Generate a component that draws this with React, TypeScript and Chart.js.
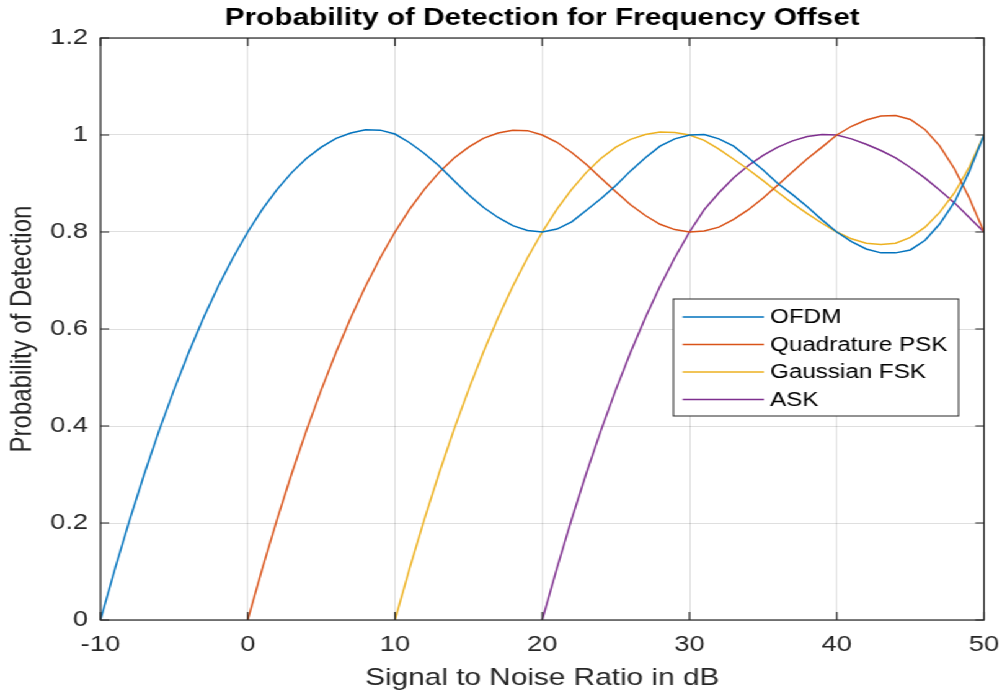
import React, { useEffect, useRef } from 'react';
import { Chart, registerables } from 'chart.js';

Chart.register(...registerables);

// ---------- data ----------
const TITLE = 'Probability of Detection for Frequency Offset';
const X_TITLE = 'Signal to Noise Ratio in dB';
const Y_TITLE = 'Probability of Detection';

const SNR_DB = [
  -10, -9, -8, -7, -6, -5, -4, -3, -2, -1,
  0, 1, 2, 3, 4, 5, 6, 7, 8, 9,
  10, 11, 12, 13, 14, 15, 16, 17, 18, 19,
  20, 21, 22, 23, 24, 25, 26, 27, 28, 29,
  30, 31, 32, 33, 34, 35, 36, 37, 38, 39,
  40, 41, 42, 43, 44, 45, 46, 47, 48, 49, 50,
];

const X_TICKS = [-10, 0, 10, 20, 30, 40, 50];
const X_TICK_LABELS = ['-10', '0', '10', '20', '30', '40', '50'];
const Y_TICKS = [0, 0.2, 0.4, 0.6, 0.8, 1, 1.2];
const Y_TICK_LABELS = ['0', '0.2', '0.4', '0.6', '0.8', '1', '1.2'];

const SERIES_NAMES = ['OFDM', 'Quadrature PSK', 'Gaussian FSK', 'ASK'];
const SERIES_COLORS = ['#0072BD', '#D95319', '#EDB120', '#7E2F8E'];

const OFDM = [
  0, 0.107, 0.208, 0.303, 0.392, 0.475, 0.552, 0.623, 0.688, 0.747,
  0.800, 0.847, 0.888, 0.923, 0.952, 0.975, 0.993, 1.004, 1.011, 1.010,
  1.002, 0.984, 0.962, 0.936, 0.906, 0.877, 0.851, 0.830, 0.813, 0.803,
  0.800, 0.806, 0.821, 0.845, 0.869, 0.896, 0.926, 0.953, 0.977, 0.992,
  1.000, 1.001, 0.992, 0.977, 0.953, 0.928, 0.900, 0.877, 0.852, 0.825,
  0.800, 0.780, 0.765, 0.757, 0.757, 0.763, 0.783, 0.817, 0.862, 0.925, 1.000,
];

const QPSK = [
  null, null, null, null, null, null, null, null, null, null,
  0, 0.107, 0.208, 0.303, 0.392, 0.475, 0.552, 0.623, 0.688, 0.747,
  0.800, 0.847, 0.888, 0.923, 0.952, 0.975, 0.993, 1.004, 1.010, 1.009,
  1.000, 0.985, 0.964, 0.939, 0.911, 0.883, 0.856, 0.834, 0.816, 0.805,
  0.800, 0.802, 0.810, 0.826, 0.846, 0.870, 0.897, 0.924, 0.951, 0.975,
  1.000, 1.018, 1.031, 1.039, 1.040, 1.032, 1.011, 0.977, 0.930, 0.870, 0.800,
];

const GFSK = [
  null, null, null, null, null, null, null, null, null, null,
  null, null, null, null, null, null, null, null, null, null,
  0, 0.107, 0.208, 0.303, 0.392, 0.475, 0.552, 0.623, 0.688, 0.747,
  0.800, 0.847, 0.888, 0.923, 0.952, 0.975, 0.991, 1.001, 1.006, 1.005,
  1.000, 0.989, 0.971, 0.950, 0.929, 0.906, 0.882, 0.859, 0.838, 0.818,
  0.800, 0.786, 0.777, 0.774, 0.777, 0.789, 0.810, 0.841, 0.881, 0.934, 1.000,
];

const ASK = [
  null, null, null, null, null, null, null, null, null, null,
  null, null, null, null, null, null, null, null, null, null,
  null, null, null, null, null, null, null, null, null, null,
  0, 0.107, 0.208, 0.303, 0.392, 0.475, 0.552, 0.623, 0.688, 0.747,
  0.800, 0.846, 0.881, 0.912, 0.937, 0.958, 0.975, 0.988, 0.997, 1.001,
  1.000, 0.992, 0.981, 0.968, 0.953, 0.933, 0.911, 0.886, 0.860, 0.830, 0.800,
];

const SERIES_VALUES = [OFDM, QPSK, GFSK, ASK];

// ---------- layout / style ----------
const W = 808;
const H = 690;
const SX = 1002 / 808;
const FONT = "'Liberation Sans', Arial, Helvetica, sans-serif";
const AXIS_COLOR = '#262626';
const GRID_COLOR = 'rgba(38,38,38,0.15)';

const matlabDecor = {
  id: 'matlabDecor',
  afterDatasetsDraw(chart: any) {
    const { ctx, chartArea: a, scales } = chart;
    ctx.save();
    // axes box
    ctx.strokeStyle = AXIS_COLOR;
    ctx.lineWidth = 1.2;
    ctx.strokeRect(a.left, a.top, a.right - a.left, a.bottom - a.top);
    // inward tick marks
    ctx.beginPath();
    X_TICKS.forEach((v) => {
      const px = scales.x.getPixelForValue(v);
      ctx.moveTo(px, a.bottom);
      ctx.lineTo(px, a.bottom - 8);
      ctx.moveTo(px, a.top);
      ctx.lineTo(px, a.top + 8);
    });
    Y_TICKS.forEach((v) => {
      const py = scales.y.getPixelForValue(v);
      ctx.moveTo(a.left, py);
      ctx.lineTo(a.left + 7, py);
      ctx.moveTo(a.right, py);
      ctx.lineTo(a.right - 7, py);
    });
    ctx.stroke();

    // legend box
    const bx = 543, by = 299, bw = 230, bh = 117;
    ctx.fillStyle = '#ffffff';
    ctx.fillRect(bx, by, bw, bh);
    ctx.lineWidth = 1;
    ctx.strokeStyle = AXIS_COLOR;
    ctx.strokeRect(bx, by, bw, bh);
    ctx.font = `19.5px ${FONT}`;
    ctx.textBaseline = 'middle';
    ctx.textAlign = 'left';
    chart.data.datasets.forEach((ds: any, i: number) => {
      const y = 317 + i * 27.5;
      ctx.strokeStyle = ds.borderColor;
      ctx.lineWidth = 1.5;
      ctx.beginPath();
      ctx.moveTo(550.5, y);
      ctx.lineTo(616, y);
      ctx.stroke();
      ctx.fillStyle = '#000000';
      ctx.fillText(ds.label, 621, y + 1);
    });

    // title
    ctx.font = `bold 24px ${FONT}`;
    ctx.fillStyle = '#000000';
    ctx.textAlign = 'center';
    ctx.textBaseline = 'alphabetic';
    ctx.fillText(TITLE, (a.left + a.right) / 2, 25);
    ctx.restore();
  },
};

export default function App() {
  const ref = useRef<HTMLCanvasElement>(null);

  useEffect(() => {
    if (!ref.current) return;
    const datasets = SERIES_NAMES.map((name, si) => ({
      label: name,
      data: SNR_DB.map((x, i) => ({ x, y: SERIES_VALUES[si][i] })).filter((p) => p.y !== null),
      borderColor: SERIES_COLORS[si],
      backgroundColor: SERIES_COLORS[si],
      borderWidth: 1.5,
      pointRadius: 0,
      tension: 0,
      fill: false,
    }));

    const chart = new Chart(ref.current, {
      type: 'line',
      data: { datasets },
      options: {
        animation: false,
        responsive: false,
        devicePixelRatio: 1,
        layout: { padding: { top: 38, right: 14.5, bottom: 0, left: 0 } },
        plugins: {
          legend: { display: false },
          title: { display: false },
          tooltip: { enabled: false },
        },
        scales: {
          x: {
            type: 'linear',
            min: -10,
            max: 50,
            afterBuildTicks: (s: any) => {
              s.ticks = X_TICKS.map((v) => ({ value: v }));
            },
            afterFit: (s: any) => {
              s.height = 70;
              s.paddingLeft = 0;
              s.paddingRight = 0;
            },
            ticks: {
              padding: 12,
              autoSkip: false,
              maxRotation: 0,
              color: AXIS_COLOR,
              font: { family: FONT, size: 22 },
              callback: (_v: any, i: number) => X_TICK_LABELS[i],
            },
            grid: { color: GRID_COLOR, lineWidth: 1, drawTicks: false },
            border: { display: false },
            title: {
              display: true,
              text: X_TITLE,
              color: AXIS_COLOR,
              font: { family: FONT, size: 24, lineHeight: 1 },
              padding: { top: 1, bottom: 0 },
            },
          },
          y: {
            type: 'linear',
            min: 0,
            max: 1.2,
            afterBuildTicks: (s: any) => {
              s.ticks = Y_TICKS.map((v) => ({ value: v }));
            },
            afterFit: (s: any) => {
              s.width = 81;
              s.paddingTop = 0;
              s.paddingBottom = 0;
            },
            ticks: {
              padding: 10,
              autoSkip: false,
              color: AXIS_COLOR,
              font: { family: FONT, size: 22 },
              callback: (_v: any, i: number) => Y_TICK_LABELS[i],
            },
            grid: { color: GRID_COLOR, lineWidth: 1, drawTicks: false },
            border: { display: false },
            title: {
              display: true,
              text: Y_TITLE,
              color: AXIS_COLOR,
              font: { family: FONT, size: 24, lineHeight: 1.2 },
              padding: { top: 4, bottom: 0 },
            },
          },
        },
      },
      plugins: [matlabDecor],
    } as any);

    return () => chart.destroy();
  }, []);

  return (
    <div
      style={{
        position: 'fixed',
        left: 0,
        top: 0,
        width: W,
        height: H,
        background: '#ffffff',
        transform: `scaleX(${SX})`,
        transformOrigin: '0 0',
      }}
    >
      <canvas ref={ref} width={W} height={H} style={{ width: W, height: H }} />
    </div>
  );
}
